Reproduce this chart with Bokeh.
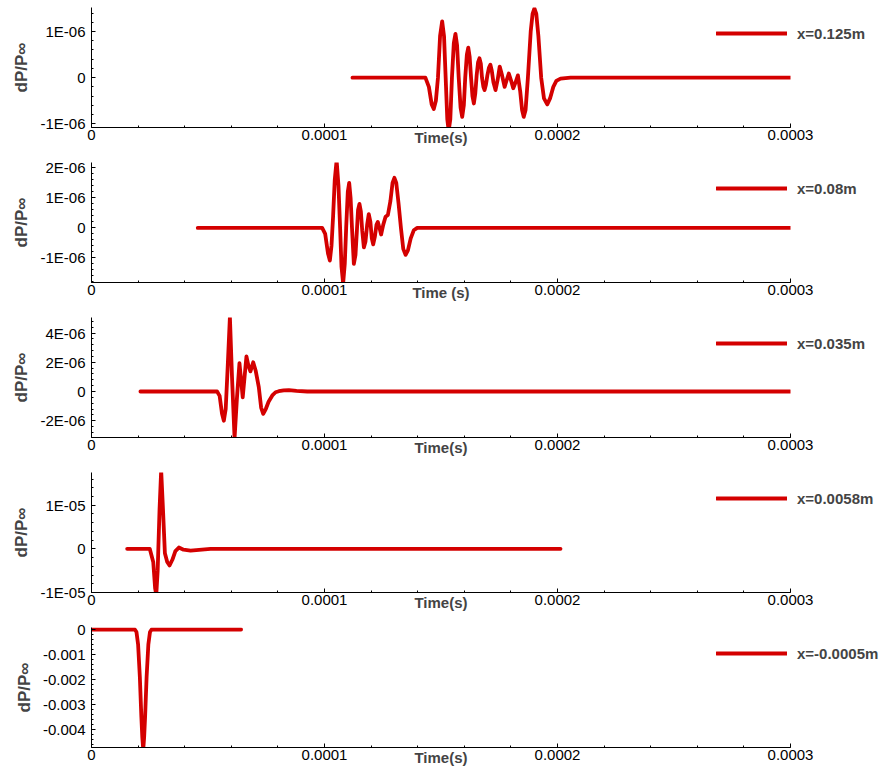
from bokeh.plotting import figure
from bokeh.layouts import column
from bokeh.models import FixedTicker, Legend, LegendItem, Range1d, ColumnDataSource
from bokeh.embed import file_html
from bokeh.resources import INLINE
import numpy as np

LINE_RED = "#d40000"
FONT = "Liberation Sans"

# Shared time axis
x_ticks = [0.0, 1e-4, 2e-4, 3e-4]
x_tick_labels = ["0", "0.0001", "0.0002", "0.0003"]

# Probe at x=0.125m (time in microseconds, dP/P_inf)
t1_us = [112.0, 143.3, 144.8, 146.0, 146.9, 147.8, 148.7, 149.6, 150.5, 151.3,
         152.0, 152.7, 153.3, 154.0, 154.7, 155.5, 156.2, 156.9, 157.6, 158.4,
         159.1, 159.8, 160.4, 161.1, 161.7, 162.3, 162.9, 163.5, 164.1, 164.7,
         165.3, 165.9, 166.5, 167.1, 167.6, 168.2, 168.7, 169.3, 169.9, 170.6,
         171.2, 171.8, 172.5, 173.4, 174.3, 175.2, 176.2, 177.3, 178.2, 179.1,
         180.0, 181.0, 182.0, 183.0, 184.0, 184.8, 185.5, 186.3, 187.3, 188.5,
         189.3, 190.1, 190.9, 191.8, 193.0, 194.2, 195.6, 196.8, 198.2, 199.5,
         201.3, 205.6, 300.0]
p1 = [0.0, 0.0, -0.2e-6, -0.58e-6, -0.68e-6, -0.5e-6, 0.0, 0.9e-6, 1.22e-6, 0.9e-6,
      0.0, -0.9e-6, -1.15e-6, -0.9e-6, 0.0, 0.75e-6, 0.95e-6, 0.7e-6, 0.0, -0.65e-6,
      -0.85e-6, -0.6e-6, 0.0, 0.5e-6, 0.65e-6, 0.45e-6, 0.0, -0.4e-6, -0.56e-6, -0.35e-6,
      0.05e-6, 0.33e-6, 0.42e-6, 0.3e-6, 0.0, -0.2e-6, -0.27e-6, -0.15e-6, 0.05e-6, 0.22e-6,
      0.28e-6, 0.15e-6, -0.1e-6, -0.27e-6, -0.05e-6, 0.24e-6, 0.05e-6, -0.2e-6, -0.05e-6, 0.09e-6,
      -0.05e-6, -0.23e-6, -0.1e-6, 0.05e-6, -0.3e-6, -0.7e-6, -0.85e-6, -0.7e-6, 0.0, 1.0e-6,
      1.38e-6, 1.5e-6, 1.38e-6, 0.9e-6, 0.0, -0.45e-6, -0.58e-6, -0.45e-6, -0.2e-6, -0.07e-6,
      -0.02e-6, 0.0, 0.0]

# Probe at x=0.08m
t2_us = [45.6, 99.0, 100.3, 101.5, 102.3, 103.0, 103.7, 104.4, 105.2, 106.0,
         106.7, 107.3, 108.0, 108.7, 109.3, 110.0, 110.6, 111.2, 111.8, 112.6,
         113.3, 113.9, 114.4, 115.0, 115.6, 116.2, 116.9, 117.6, 118.3, 119.0,
         119.7, 120.3, 120.9, 121.6, 122.3, 122.9, 123.6, 124.3, 125.2, 126.2,
         127.2, 128.3, 129.2, 130.0, 130.8, 131.8, 132.8, 133.8, 134.8, 135.8,
         137.0, 138.3, 139.8, 300.0]
p2 = [0.0, 0.0, -0.2e-6, -0.85e-6, -1.09e-6, -0.6e-6, 0.4e-6, 1.6e-6, 2.25e-6, 1.4e-6,
      0.0, -1.3e-6, -1.85e-6, -1.2e-6, 0.0, 1.2e-6, 1.5e-6, 1.0e-6, 0.0, -1.2e-6,
      -0.9e-6, -0.1e-6, 0.6e-6, 0.8e-6, 0.55e-6, -0.1e-6, -0.65e-6, -0.45e-6, 0.1e-6, 0.46e-6,
      0.2e-6, -0.35e-6, -0.55e-6, -0.3e-6, 0.1e-6, 0.2e-6, 0.0, -0.22e-6, 0.1e-6, 0.37e-6,
      0.43e-6, 0.9e-6, 1.5e-6, 1.67e-6, 1.5e-6, 0.8e-6, 0.0, -0.7e-6, -0.9e-6, -0.75e-6,
      -0.35e-6, -0.08e-6, 0.0, 0.0]

# Probe at x=0.035m
t3_us = [21.0, 53.9, 55.0, 56.0, 56.8, 57.6, 58.4, 59.4, 60.3, 61.4,
         62.4, 63.5, 64.2, 64.9, 65.7, 66.5, 67.3, 68.2, 69.4, 70.5,
         71.8, 72.8, 73.7, 74.8, 76.0, 77.6, 79.0, 80.4, 82.5, 84.7,
         88.0, 92.6, 300.0]
p3 = [0.0, 0.0, -0.3e-6, -1.5e-6, -2.0e-6, -1.2e-6, 1.5e-6, 5.1e-6, 1.0e-6, -3.2e-6,
      -0.5e-6, 1.94e-6, 0.8e-6, -0.4e-6, 1.0e-6, 2.4e-6, 1.8e-6, 1.38e-6, 2.0e-6, 1.4e-6,
      0.3e-6, -1.1e-6, -1.53e-6, -1.2e-6, -0.7e-6, -0.27e-6, -0.05e-6, 0.02e-6, 0.08e-6, 0.1e-6,
      0.05e-6, 0.0, 0.0]

# Probe at x=0.0058m
t4_us = [15.3, 25.0, 26.5, 27.3, 27.8, 28.4, 29.2, 29.9, 30.6, 31.5,
         32.5, 33.5, 34.7, 36.0, 37.5, 39.5, 42.5, 51.1, 201.3]
p4 = [0.0, 0.0, -0.3e-5, -0.9e-5, -1.05e-5, -0.5e-5, 0.9e-5, 1.8e-5, 1.0e-5, -0.1e-5,
      -0.3e-5, -0.38e-5, -0.25e-5, -0.05e-5, 0.03e-5, -0.02e-5, -0.04e-5, 0.0, 0.0]

# Probe at x=-0.0005m
t5_us = [0.0, 18.6, 19.3, 20.0, 20.75, 21.4, 21.8, 22.2, 22.6, 23.0,
         23.65, 24.4, 25.1, 25.8, 64.2]
p5 = [0.0, 0.0, -0.0001, -0.0006, -0.0019, -0.0035, -0.0043, -0.0048, -0.0043, -0.0035,
      -0.0019, -0.0006, -0.0001, 0.0, 0.0]

panels = [
    dict(t=t1_us, p=p1, label="x=0.125m", xlabel="Time(s)", yr=(-1.08e-6, 1.52e-6),
         yticks=[-1e-6, 0.0, 1e-6], ylabels=["-1E-06", "0", "1E-06"], yminor=2e-7),
    dict(t=t2_us, p=p2, label="x=0.08m", xlabel="Time (s)", yr=(-1.82e-6, 2.18e-6),
         yticks=[-1e-6, 0.0, 1e-6, 2e-6], ylabels=["-1E-06", "0", "1E-06", "2E-06"], yminor=2e-7),
    dict(t=t3_us, p=p3, label="x=0.035m", xlabel="Time(s)", yr=(-3.15e-6, 5.07e-6),
         yticks=[-2e-6, 0.0, 2e-6, 4e-6], ylabels=["-2E-06", "0", "2E-06", "4E-06"], yminor=4e-7),
    dict(t=t4_us, p=p4, label="x=0.0058m", xlabel="Time(s)", yr=(-1.0e-5, 1.75e-5),
         yticks=[-1e-5, 0.0, 1e-5], ylabels=["-1E-05", "0", "1E-05"], yminor=2e-6),
    dict(t=t5_us, p=p5, label="x=-0.0005m", xlabel="Time(s)", yr=(-0.00472, 0.00008),
         yticks=[-0.004, -0.003, -0.002, -0.001, 0.0],
         ylabels=["-0.004", "-0.003", "-0.002", "-0.001", "0"], yminor=2e-4),
]

x_minor = list(np.round(np.arange(0, 3.0001e-4, 2e-5), 10))

figs = []
for i, cfg in enumerate(panels):
    last = i == len(panels) - 1
    p = figure(frame_width=699, frame_height=120,
               min_border_left=91, min_border_right=0,
               min_border_top=7, min_border_bottom=22 if last else 28,
               x_range=Range1d(0, 3e-4), y_range=Range1d(*cfg["yr"]),
               output_backend="svg", toolbar_location=None)
    p.outline_line_color = None
    p.xgrid.visible = False
    p.ygrid.visible = False
    p.background_fill_color = "white"
    p.border_fill_color = "white"

    src = ColumnDataSource(dict(t=[v * 1e-6 for v in cfg["t"]], p=cfg["p"]))
    r = p.line("t", "p", source=src, line_color=LINE_RED, line_width=3.8,
               line_join="round", line_cap="round")

    # time axis
    xa = p.xaxis[0]
    xa.ticker = FixedTicker(ticks=x_ticks, minor_ticks=x_minor)
    xa.major_label_overrides = dict(zip(x_ticks, x_tick_labels))
    xa.axis_label = cfg["xlabel"]
    xa.axis_label_text_font = FONT
    xa.axis_label_text_font_style = "bold"
    xa.axis_label_text_font_size = "15px"
    xa.axis_label_standoff = -14
    xa.major_label_text_font = FONT
    xa.major_label_text_font_size = "15px"
    xa.major_label_text_color = "black"
    xa.major_label_standoff = 2
    xa.major_tick_in = 4
    xa.major_tick_out = 0
    xa.minor_tick_in = 2
    xa.minor_tick_out = 0
    xa.axis_line_color = "black"

    # pressure axis
    ya = p.yaxis[0]
    ym = cfg["yminor"]
    y_minor = list(np.round(np.arange(cfg["yr"][0] - cfg["yr"][0] % ym, cfg["yr"][1], ym), 12))
    ya.ticker = FixedTicker(ticks=cfg["yticks"], minor_ticks=y_minor)
    ya.major_label_overrides = dict(zip(cfg["yticks"], cfg["ylabels"]))
    ya.axis_label = "dP/P\u221e"
    ya.axis_label_text_font = FONT
    ya.axis_label_text_font_style = "bold"
    ya.axis_label_text_font_size = "17px"
    ya.axis_label_standoff = 6
    ya.major_label_text_font = FONT
    ya.major_label_text_font_size = "15px"
    ya.major_label_text_color = "black"
    ya.major_label_standoff = 6
    ya.major_tick_in = 4
    ya.major_tick_out = 0
    ya.minor_tick_in = 2
    ya.minor_tick_out = 0
    ya.axis_line_color = "black"

    # legend sits in the right-hand panel, its sample line reaching back
    # over the end of the plot area
    legend = Legend(items=[LegendItem(label=cfg["label"], renderers=[r])],
                    location=(-74, 84), padding=0, margin=-33, spacing=0,
                    glyph_width=71, glyph_height=20, label_standoff=10,
                    label_text_font=FONT, label_text_font_style="bold",
                    label_text_font_size="15px", border_line_color=None,
                    background_fill_alpha=0)
    p.add_layout(legend, "right")
    figs.append(p)

layout = column(*figs, spacing=0)
open("out.html", "w").write(file_html(layout, INLINE))
